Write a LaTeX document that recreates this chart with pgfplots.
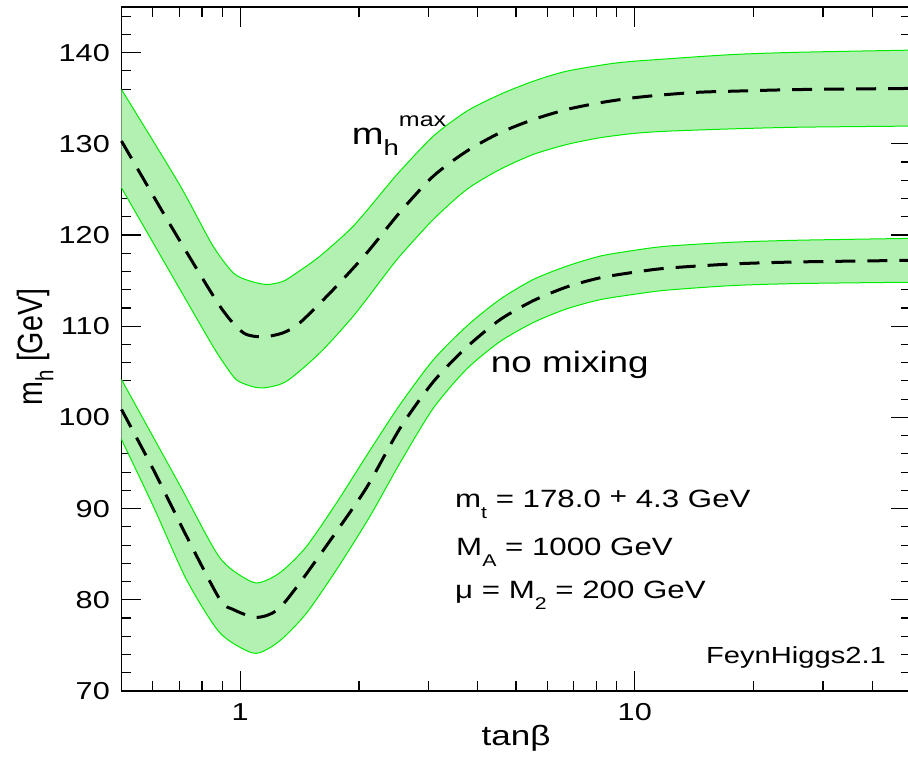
\documentclass[border=0pt]{standalone}
\usepackage{fontspec}
\setmainfont{Liberation Sans}[FakeStretch=1.25]
\newfontfamily\rotfont{Liberation Sans}[FakeStretch=0.82]
\usepackage{pgfplots}
\usepackage{pgfplotstable}
\pgfplotsset{compat=1.18}
\usepgfplotslibrary{fillbetween}

\definecolor{edgegreen}{RGB}{0,235,0}
\definecolor{bandfill}{RGB}{178,241,178}
\newcommand{\fs}[1]{\fontsize{#1}{#1}\selectfont}
\newcommand{\sbs}[1]{\raisebox{-11pt}{\fs{17}#1}}

% m_h^max scenario
\pgfplotstableread{
t m
0.5 135.95
0.7 125.6
0.85 118.9
0.96 115.85
1.05 115.0
1.167 114.57
1.285 114.93
1.39 115.85
1.592 117.68
1.934 120.97
2.35 125.3
2.54 127.0
3.085 130.83
3.75 133.57
4.55 135.4
5.53 136.86
6.72 137.96
9.0 138.87
12.04 139.31
17.77 139.79
26.2 140.04
50 140.27
}\maxup
\pgfplotstableread{
t m
0.5 130.3
0.664 121.15
0.888 112.2
1.018 109.28
1.144 108.84
1.285 109.28
1.416 110.37
1.72 114.0
2.09 118.0
2.54 122.5
3.085 126.45
3.75 129.19
4.55 131.2
5.53 132.66
6.72 133.76
8.16 134.5
9.91 135.04
12.04 135.4
14.63 135.66
17.77 135.77
26.2 135.95
50 136.07
}\maxmid
\pgfplotstableread{
t m
0.5 125.17
0.7 114.2
0.85 107.9
0.92 105.6
0.979 104.1
1.069 103.4
1.155 103.25
1.311 103.97
1.592 107.08
1.934 111.1
2.35 115.86
2.54 117.7
3.085 121.7
3.75 124.99
4.55 127.18
5.53 128.83
6.72 129.92
8.16 130.66
9.91 131.13
12.04 131.38
17.77 131.64
26.2 131.82
50 131.94
}\maxlo
% no mixing scenario
\pgfplotstableread{
t m
0.5 104.15
0.7 92.7
0.888 84.6
1.069 81.97
1.167 82.15
1.285 83.25
1.474 85.88
1.755 90.64
2.133 96.4
2.54 101.4
3.085 106.3
3.75 110.0
4.55 112.93
5.53 115.12
6.72 116.58
8.16 117.68
9.91 118.3
12.04 118.77
17.77 119.21
26.2 119.43
50 119.63
}\nmup
\pgfplotstableread{
t m
0.5 100.87
0.602 94.29
0.731 86.97
0.888 80.03
0.960 78.94
1.079 78.09
1.167 78.28
1.26 79.12
1.416 81.86
1.72 86.97
2.09 92.3
2.54 98.8
3.085 103.9
3.75 107.7
4.55 110.7
5.53 112.8
6.72 114.3
8.16 115.3
9.91 115.9
12.04 116.36
17.77 116.83
26.2 117.05
50 117.22
}\nmmid
\pgfplotstableread{
t m
0.5 97.58
0.602 90.26
0.731 82.2
0.888 76.38
1.069 74.19
1.167 74.55
1.285 75.83
1.474 78.57
1.755 83.32
2.133 89.17
2.54 95.0
3.085 101.0
3.75 105.3
4.55 108.3
5.53 110.4
6.72 111.9
8.16 112.9
9.91 113.48
12.04 113.95
17.77 114.46
26.2 114.68
50 114.82
}\nmlo

\begin{document}
\begin{tikzpicture}
\begin{axis}[
  set layers,
  clip=false,
  scale only axis,
  width=789pt, height=684pt,
  xmode=log,
  xmin=0.5, xmax=50, ymin=70, ymax=145,
  xtick={1,10}, xticklabels={1,10},
  minor xtick={0.6,0.7,0.8,0.9,2,3,4,5,6,7,8,9,20,30,40},
  ytick={70,80,90,100,110,120,130,140},
  minor ytick={72,74,76,78,82,84,86,88,92,94,96,98,102,104,106,108,112,114,116,118,122,124,126,128,132,134,136,138,142,144},
  tick align=inside,
  major tick length=20pt, minor tick length=10pt,
  axis line style={line width=1.6pt},
  every tick/.style={black, line width=1.1pt},
  /pgf/number format/assume math mode=true,
  ticklabel style={font=\fs{24.5}},
  yticklabel style={anchor=east, inner sep=0pt, xshift=-11.5pt},
  xticklabel style={anchor=north, inner sep=0pt, yshift=-12pt},
  xlabel={tanβ},
  xlabel style={at={(axis description cs:0.5,-0.079)}, anchor=base, inner sep=0pt, font=\fs{28}},
  ylabel={m\raisebox{-0.3em}{\fs{25}h} [GeV]},
  ylabel style={at={(axis description cs:-0.0995,0.503)}, anchor=base, inner sep=0pt, font=\rotfont\fs{35}},
  every axis plot/.append style={smooth, tension=0.45},
]
\addplot[edgegreen, line width=1pt, name path=U1] table[x=t,y=m] {\maxup};
\addplot[edgegreen, line width=1pt, name path=L1] table[x=t,y=m] {\maxlo};
\addplot[bandfill] fill between[of=U1 and L1];
\addplot[edgegreen, line width=1pt, name path=U2] table[x=t,y=m] {\nmup};
\addplot[edgegreen, line width=1pt, name path=L2] table[x=t,y=m] {\nmlo};
\addplot[bandfill] fill between[of=U2 and L2];
\addplot[black, line width=3pt, dash pattern=on 20pt off 12pt] table[x=t,y=m] {\maxmid};
\addplot[black, line width=3pt, dash pattern=on 20pt off 12pt] table[x=t,y=m] {\nmmid};

\node[anchor=base west, inner sep=0pt, font=\fs{30.5}] at (rel axis cs:0.2918,0.7997)
  {m\raisebox{-11pt}{\fs{22}h}\raisebox{18pt}{\fs{20}max}};
\node[anchor=base west, inner sep=0pt, font=\fs{29.5}] at (rel axis cs:0.4680,0.4660) {no mixing};
\node[anchor=base west, inner sep=0pt, font=\fs{25}] at (rel axis cs:0.4227,0.2686)
  {m\sbs{t} = 178.0 \raisebox{0.12em}{\fs{24}+} 4.3 GeV};
\node[anchor=base west, inner sep=0pt, font=\fs{25}] at (rel axis cs:0.4240,0.1988)
  {M\sbs{A} = 1000 GeV};
\node[anchor=base west, inner sep=0pt, font=\fs{25}] at (rel axis cs:0.4227,0.1355)
  {μ = M\sbs{2} = 200 GeV};
\node[anchor=base east, inner sep=0pt, font=\fs{23.3}] at (rel axis cs:0.969,0.0395) {FeynHiggs2.1};
\end{axis}
\pgfresetboundingbox
\useasboundingbox (-121.5pt,-69pt) rectangle (786.5pt,691pt);
\end{tikzpicture}
\end{document}
